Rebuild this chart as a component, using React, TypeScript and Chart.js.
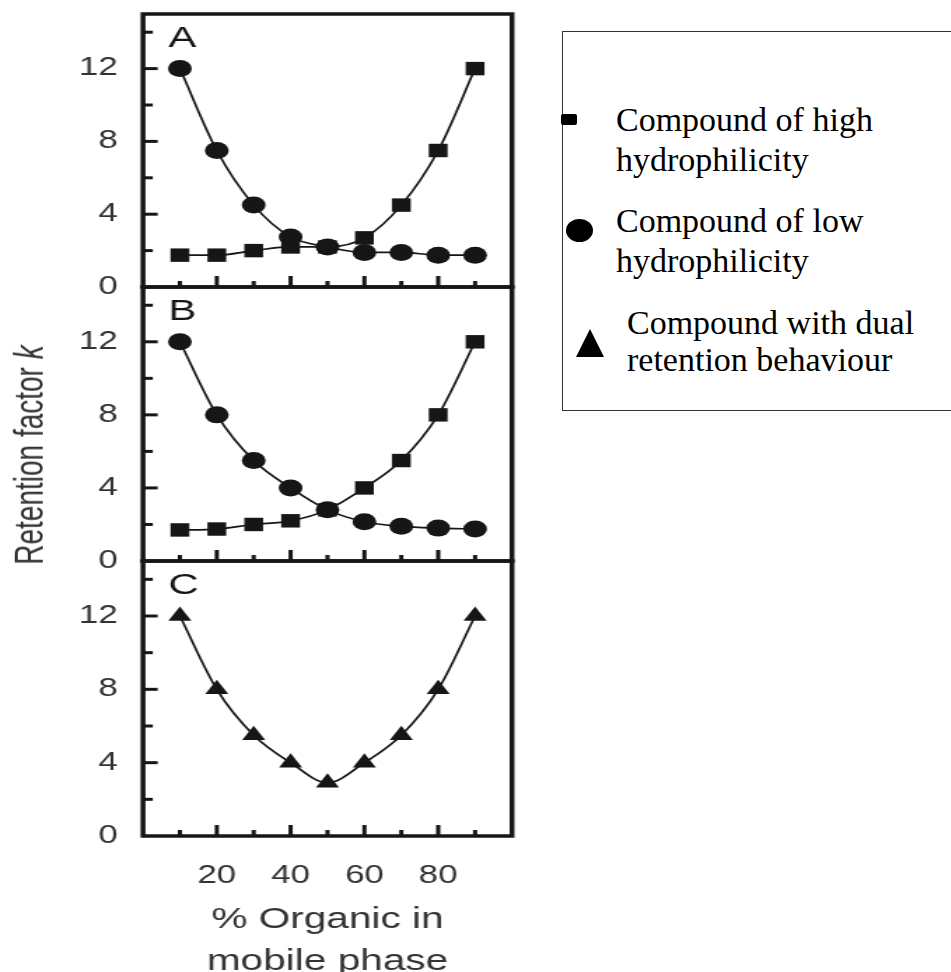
import React, { useEffect, useRef } from 'react';
import { Chart, registerables } from 'chart.js';

Chart.register(...registerables);

// ---------- data ----------
const xValues = [10, 20, 30, 40, 50, 60, 70, 80, 90];
const panelAHigh = [1.75, 1.75, 2.0, 2.2, 2.2, 2.7, 4.5, 7.5, 12];
const panelALow = [12, 7.5, 4.5, 2.75, 2.2, 1.9, 1.9, 1.75, 1.75];
const panelBHigh = [1.7, 1.75, 2.0, 2.2, 2.8, 4.0, 5.5, 8.0, 12];
const panelBLow = [12, 8.0, 5.5, 4.0, 2.8, 2.15, 1.9, 1.8, 1.75];
const panelCDual = [12, 8.0, 5.5, 4.0, 2.9, 4.0, 5.5, 8.0, 12];

const yMajorTicks = [0, 4, 8, 12];
const yMinorTicks = [2, 6, 10, 14];
const xMajorTicks = [20, 40, 60, 80];
const xMinorTicks = [10, 30, 50, 70, 90];
const panelLetters = ['A', 'B', 'C'];
const xTitleLines = ['% Organic in', 'mobile phase'];
const yTitleText = 'Retention factor ';
const yTitleItalic = 'k';
const legendLabels = [
  ['Compound of high', 'hydrophilicity'],
  ['Compound of low', 'hydrophilicity'],
  ['Compound with dual', 'retention behaviour'],
];

// ---------- styling ----------
const INK = '#161616';
const SANS = '"Liberation Sans", Arial, Helvetica, sans-serif';
const SERIF = '"Liberation Serif", "Times New Roman", serif';
const STRETCH = 1.4; // the original figure is stretched horizontally
const IW = 380; // internal canvas width
const CSSW = Math.round(IW * STRETCH);

const framePlugin = {
  id: 'panelFrame',
  afterDraw(chart: any, _args: any, opts: any) {
    const { ctx, chartArea } = chart;
    const { left, right, top, bottom } = chartArea;
    const x = chart.scales.x;
    const y = chart.scales.y;
    ctx.save();
    ctx.strokeStyle = INK;
    ctx.lineCap = 'butt';
    ctx.lineWidth = 3;
    const seg = (x1: number, y1: number, x2: number, y2: number) => {
      ctx.beginPath();
      ctx.moveTo(x1, y1);
      ctx.lineTo(x2, y2);
      ctx.stroke();
    };
    yMajorTicks.forEach((v) => {
      if (v === 0) return;
      const py = y.getPixelForValue(v);
      seg(left, py, left + 10.5, py);
    });
    yMinorTicks.forEach((v) => {
      const py = y.getPixelForValue(v);
      seg(left, py, left + 7, py);
    });
    xMajorTicks.forEach((v) => {
      const px = x.getPixelForValue(v);
      seg(px, bottom, px, bottom - 11);
    });
    xMinorTicks.forEach((v) => {
      const px = x.getPixelForValue(v);
      seg(px, bottom, px, bottom - 6);
    });
    ctx.lineWidth = 3.5;
    ctx.strokeRect(left, top, right - left, bottom - top);
    ctx.fillStyle = INK;
    ctx.font = `30px ${SANS}`;
    ctx.textBaseline = 'alphabetic';
    ctx.textAlign = 'left';
    ctx.fillText(opts.letter, left + 18, top + 33);
    ctx.restore();
  },
};

function series(values: number[], style: string, radius: number) {
  return {
    data: xValues.map((xv, i) => ({ x: xv, y: values[i] })),
    pointStyle: style,
    pointRadius: radius,
    pointHoverRadius: radius,
    pointBackgroundColor: INK,
    pointBorderColor: INK,
    pointBorderWidth: 0,
    borderColor: INK,
    borderWidth: 1.7,
    backgroundColor: INK,
    cubicInterpolationMode: 'monotone' as const,
    fill: false,
    clip: false as any,
  };
}

function makeConfig(letter: string, datasets: any[], showX: boolean, padTop: number, padBottom: number, xHeight: number) {
  return {
    type: 'line' as const,
    data: { datasets },
    plugins: [framePlugin],
    options: {
      responsive: false,
      animation: false as const,
      events: [],
      layout: { padding: { top: padTop, bottom: padBottom, left: 0, right: IW - 512 / STRETCH } },
      plugins: {
        legend: { display: false },
        tooltip: { enabled: false },
        panelFrame: { letter },
      },
      scales: {
        x: {
          type: 'linear' as const,
          min: 0,
          max: 100,
          display: showX,
          afterBuildTicks: (s: any) => {
            s.ticks = xMajorTicks.map((v) => ({ value: v }));
          },
          afterFit: (s: any) => {
            if (showX) s.height = xHeight;
          },
          grid: { display: false, drawTicks: false },
          border: { display: false },
          ticks: {
            color: '#333',
            padding: 25,
            autoSkip: false,
            maxRotation: 0,
            font: { family: SANS, size: 25, lineHeight: 1.2 },
          },
          title: {
            display: showX,
            text: xTitleLines,
            color: '#333',
            padding: { top: 0, bottom: 0 },
            font: { family: SANS, size: 29, lineHeight: 1.45 },
          },
        },
        y: {
          type: 'linear' as const,
          min: 0,
          max: 15,
          afterBuildTicks: (s: any) => {
            s.ticks = yMajorTicks.map((v) => ({ value: v }));
          },
          afterFit: (s: any) => {
            s.width = 143 / STRETCH;
          },
          grid: { display: false, drawTicks: false },
          border: { display: false },
          ticks: {
            color: '#333',
            padding: 18,
            font: { family: SANS, size: 25, lineHeight: 1 },
          },
        },
      },
    },
  };
}

function PanelCanvas(props: { top: number; height: number; config: () => any }) {
  const ref = useRef<HTMLCanvasElement | null>(null);
  useEffect(() => {
    if (!ref.current) return;
    const chart = new Chart(ref.current, props.config());
    return () => chart.destroy();
  }, []);
  return (
    <canvas
      ref={ref}
      width={IW}
      height={props.height}
      style={{ position: 'absolute', left: 0, top: props.top, width: `${CSSW}px`, height: `${props.height}px` }}
    />
  );
}

// panel frame rows (page y): A 14-287, B 287-561, C 561-836
export default function App() {
  const legendPos = [
    { left: 616, top: 100, lh: 40 },
    { left: 616, top: 201, lh: 40 },
    { left: 627, top: 304, lh: 37 },
  ];
  return (
    <div
      style={{
        position: 'absolute',
        left: 0,
        top: 0,
        width: 951,
        height: 972,
        overflow: 'hidden',
        background: '#fff',
      }}
    >
      <PanelCanvas
        top={-20}
        height={340}
        config={() =>
          makeConfig(panelLetters[0], [series(panelAHigh, 'rect', 9.5), series(panelALow, 'circle', 8.5)], false, 34, 33, 0)
        }
      />
      <PanelCanvas
        top={250}
        height={345}
        config={() =>
          makeConfig(panelLetters[1], [series(panelBHigh, 'rect', 9.5), series(panelBLow, 'circle', 8.5)], false, 37, 34, 0)
        }
      />
      <PanelCanvas
        top={525}
        height={458}
        config={() => makeConfig(panelLetters[2], [series(panelCDual, 'triangle', 9.5)], true, 36, 0, 147)}
      />

      {/* shared y-axis title */}
      <div
        style={{
          position: 'absolute',
          left: 30,
          top: 455,
          whiteSpace: 'nowrap',
          fontFamily: SANS,
          fontSize: 28,
          lineHeight: '30px',
          color: '#333',
          transform: 'translate(-50%, -50%) scaleX(1.45) rotate(-90deg)',
        }}
      >
        {yTitleText}
        <i>{yTitleItalic}</i>
      </div>

      {/* legend box */}
      <div
        style={{
          position: 'absolute',
          left: 562,
          top: 31,
          width: 400,
          height: 380,
          border: '1px solid #333',
          boxSizing: 'border-box',
        }}
      />
      <div style={{ position: 'absolute', left: 561, top: 114, width: 16, height: 11, background: '#000', borderRadius: 2 }} />
      <div style={{ position: 'absolute', left: 566, top: 219, width: 27, height: 23, background: '#000', borderRadius: '50%' }} />
      <div
        style={{
          position: 'absolute',
          left: 576,
          top: 329,
          width: 0,
          height: 0,
          borderLeft: '14px solid transparent',
          borderRight: '14px solid transparent',
          borderBottom: '28px solid #000',
        }}
      />
      {legendLabels.map((lines, i) => (
        <div
          key={i}
          style={{
            position: 'absolute',
            left: legendPos[i].left,
            top: legendPos[i].top,
            fontFamily: SERIF,
            fontSize: 34,
            lineHeight: `${legendPos[i].lh}px`,
            color: '#000',
            whiteSpace: 'nowrap',
          }}
        >
          {lines.map((l, j) => (
            <div key={j}>{l}</div>
          ))}
        </div>
      ))}
    </div>
  );
}
